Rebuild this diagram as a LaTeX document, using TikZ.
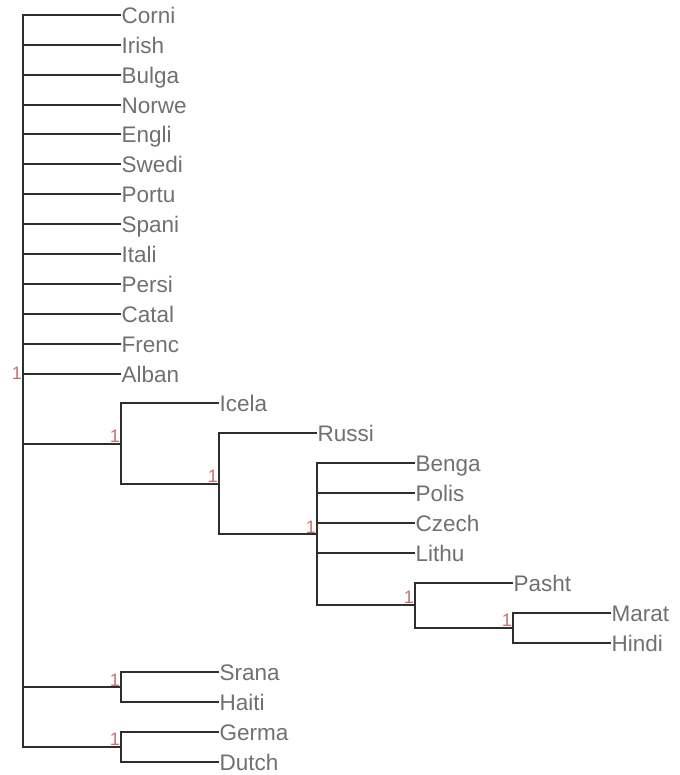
\documentclass[tikz,border=0pt]{standalone}
\usepackage{fontspec}
\setmainfont{Liberation Sans}
\usepackage{tikz}
\usetikzlibrary{positioning}
\definecolor{leafgray}{HTML}{707070}
\definecolor{branchdark}{HTML}{2E2E2E}
\definecolor{supred}{HTML}{C87070}
\tikzset{
  leaf/.style={anchor=west,inner xsep=0.5pt,inner ysep=0pt,text height=17pt,text depth=0pt,
    text=leafgray,font=\fontsize{22.5}{24}\selectfont},
  branch/.style={draw=branchdark,line width=2pt},
  support/.style={anchor=south east,inner sep=1pt,text=supred,font=\fontsize{18}{20}\selectfont},
}
\begin{document}
\begin{tikzpicture}[x=1pt,y=-1pt]
  \useasboundingbox (0,0) rectangle (679,775);
  % leaves hanging off the root
  \node[leaf] (corni) at (121,15) {Corni};
  \node[leaf] (irish) at (121,44.9) {Irish};
  \node[leaf] (bulga) at (121,74.8) {Bulga};
  \node[leaf] (norwe) at (121,104.6) {Norwe};
  \node[leaf] (engli) at (121,134.5) {Engli};
  \node[leaf] (swedi) at (121,164.4) {Swedi};
  \node[leaf] (portu) at (121,194.3) {Portu};
  \node[leaf] (spani) at (121,224.2) {Spani};
  \node[leaf] (itali) at (121,254) {Itali};
  \node[leaf] (persi) at (121,283.9) {Persi};
  \node[leaf] (catal) at (121,313.8) {Catal};
  \node[leaf] (frenc) at (121,343.7) {Frenc};
  \node[leaf] (alban) at (121,373.6) {Alban};
  % deeper clade
  \node[leaf] (icela) at (219,403.4) {Icela};
  \node[leaf] (russi) at (317,433.3) {Russi};
  \node[leaf] (benga) at (415,463.2) {Benga};
  \node[leaf] (polis) at (415,493.1) {Polis};
  \node[leaf] (czech) at (415,523) {Czech};
  \node[leaf] (lithu) at (415,552.8) {Lithu};
  \node[leaf] (pasht) at (513,582.7) {Pasht};
  \node[leaf] (marat) at (611,612.6) {Marat};
  \node[leaf] (hindi) at (611,642.5) {Hindi};
  % pairs at the bottom
  \node[leaf] (srana) at (219,672.4) {Srana};
  \node[leaf] (haiti) at (219,702.2) {Haiti};
  \node[leaf] (germa) at (219,732.1) {Germa};
  \node[leaf] (dutch) at (219,762) {Dutch};
  % internal nodes
  \coordinate (root) at (23,381);
  \coordinate (cladeA) at (121,443.6);
  \coordinate (cladeB) at (219,483.7);
  \coordinate (cladeC) at (317,534.2);
  \coordinate (cladeD) at (415,605.1);
  \coordinate (cladeE) at (513,627.6);
  \coordinate (cladeS) at (121,687.3);
  \coordinate (cladeG) at (121,747);
  % branches
  \draw[branch] (root) |- (corni.west);
  \draw[branch] (root) |- (irish.west);
  \draw[branch] (root) |- (bulga.west);
  \draw[branch] (root) |- (norwe.west);
  \draw[branch] (root) |- (engli.west);
  \draw[branch] (root) |- (swedi.west);
  \draw[branch] (root) |- (portu.west);
  \draw[branch] (root) |- (spani.west);
  \draw[branch] (root) |- (itali.west);
  \draw[branch] (root) |- (persi.west);
  \draw[branch] (root) |- (catal.west);
  \draw[branch] (root) |- (frenc.west);
  \draw[branch] (root) |- (alban.west);
  \draw[branch] (root) |- (cladeA);
  \draw[branch] (root) |- (cladeS);
  \draw[branch] (root) |- (cladeG);
  \draw[branch] (cladeA) |- (icela.west);
  \draw[branch] (cladeA) |- (cladeB);
  \draw[branch] (cladeB) |- (russi.west);
  \draw[branch] (cladeB) |- (cladeC);
  \draw[branch] (cladeC) |- (benga.west);
  \draw[branch] (cladeC) |- (polis.west);
  \draw[branch] (cladeC) |- (czech.west);
  \draw[branch] (cladeC) |- (lithu.west);
  \draw[branch] (cladeC) |- (cladeD);
  \draw[branch] (cladeD) |- (pasht.west);
  \draw[branch] (cladeD) |- (cladeE);
  \draw[branch] (cladeE) |- (marat.west);
  \draw[branch] (cladeE) |- (hindi.west);
  \draw[branch] (cladeS) |- (srana.west);
  \draw[branch] (cladeS) |- (haiti.west);
  \draw[branch] (cladeG) |- (germa.west);
  \draw[branch] (cladeG) |- (dutch.west);
  % support values
  \node[support] (suproot) at (root) {1};
  \node[support] (supA) at (cladeA) {1};
  \node[support] (supB) at (cladeB) {1};
  \node[support] (supC) at (cladeC) {1};
  \node[support] (supD) at (cladeD) {1};
  \node[support] (supE) at (cladeE) {1};
  \node[support] (supS) at (cladeS) {1};
  \node[support] (supG) at (cladeG) {1};
\end{tikzpicture}
\end{document}
